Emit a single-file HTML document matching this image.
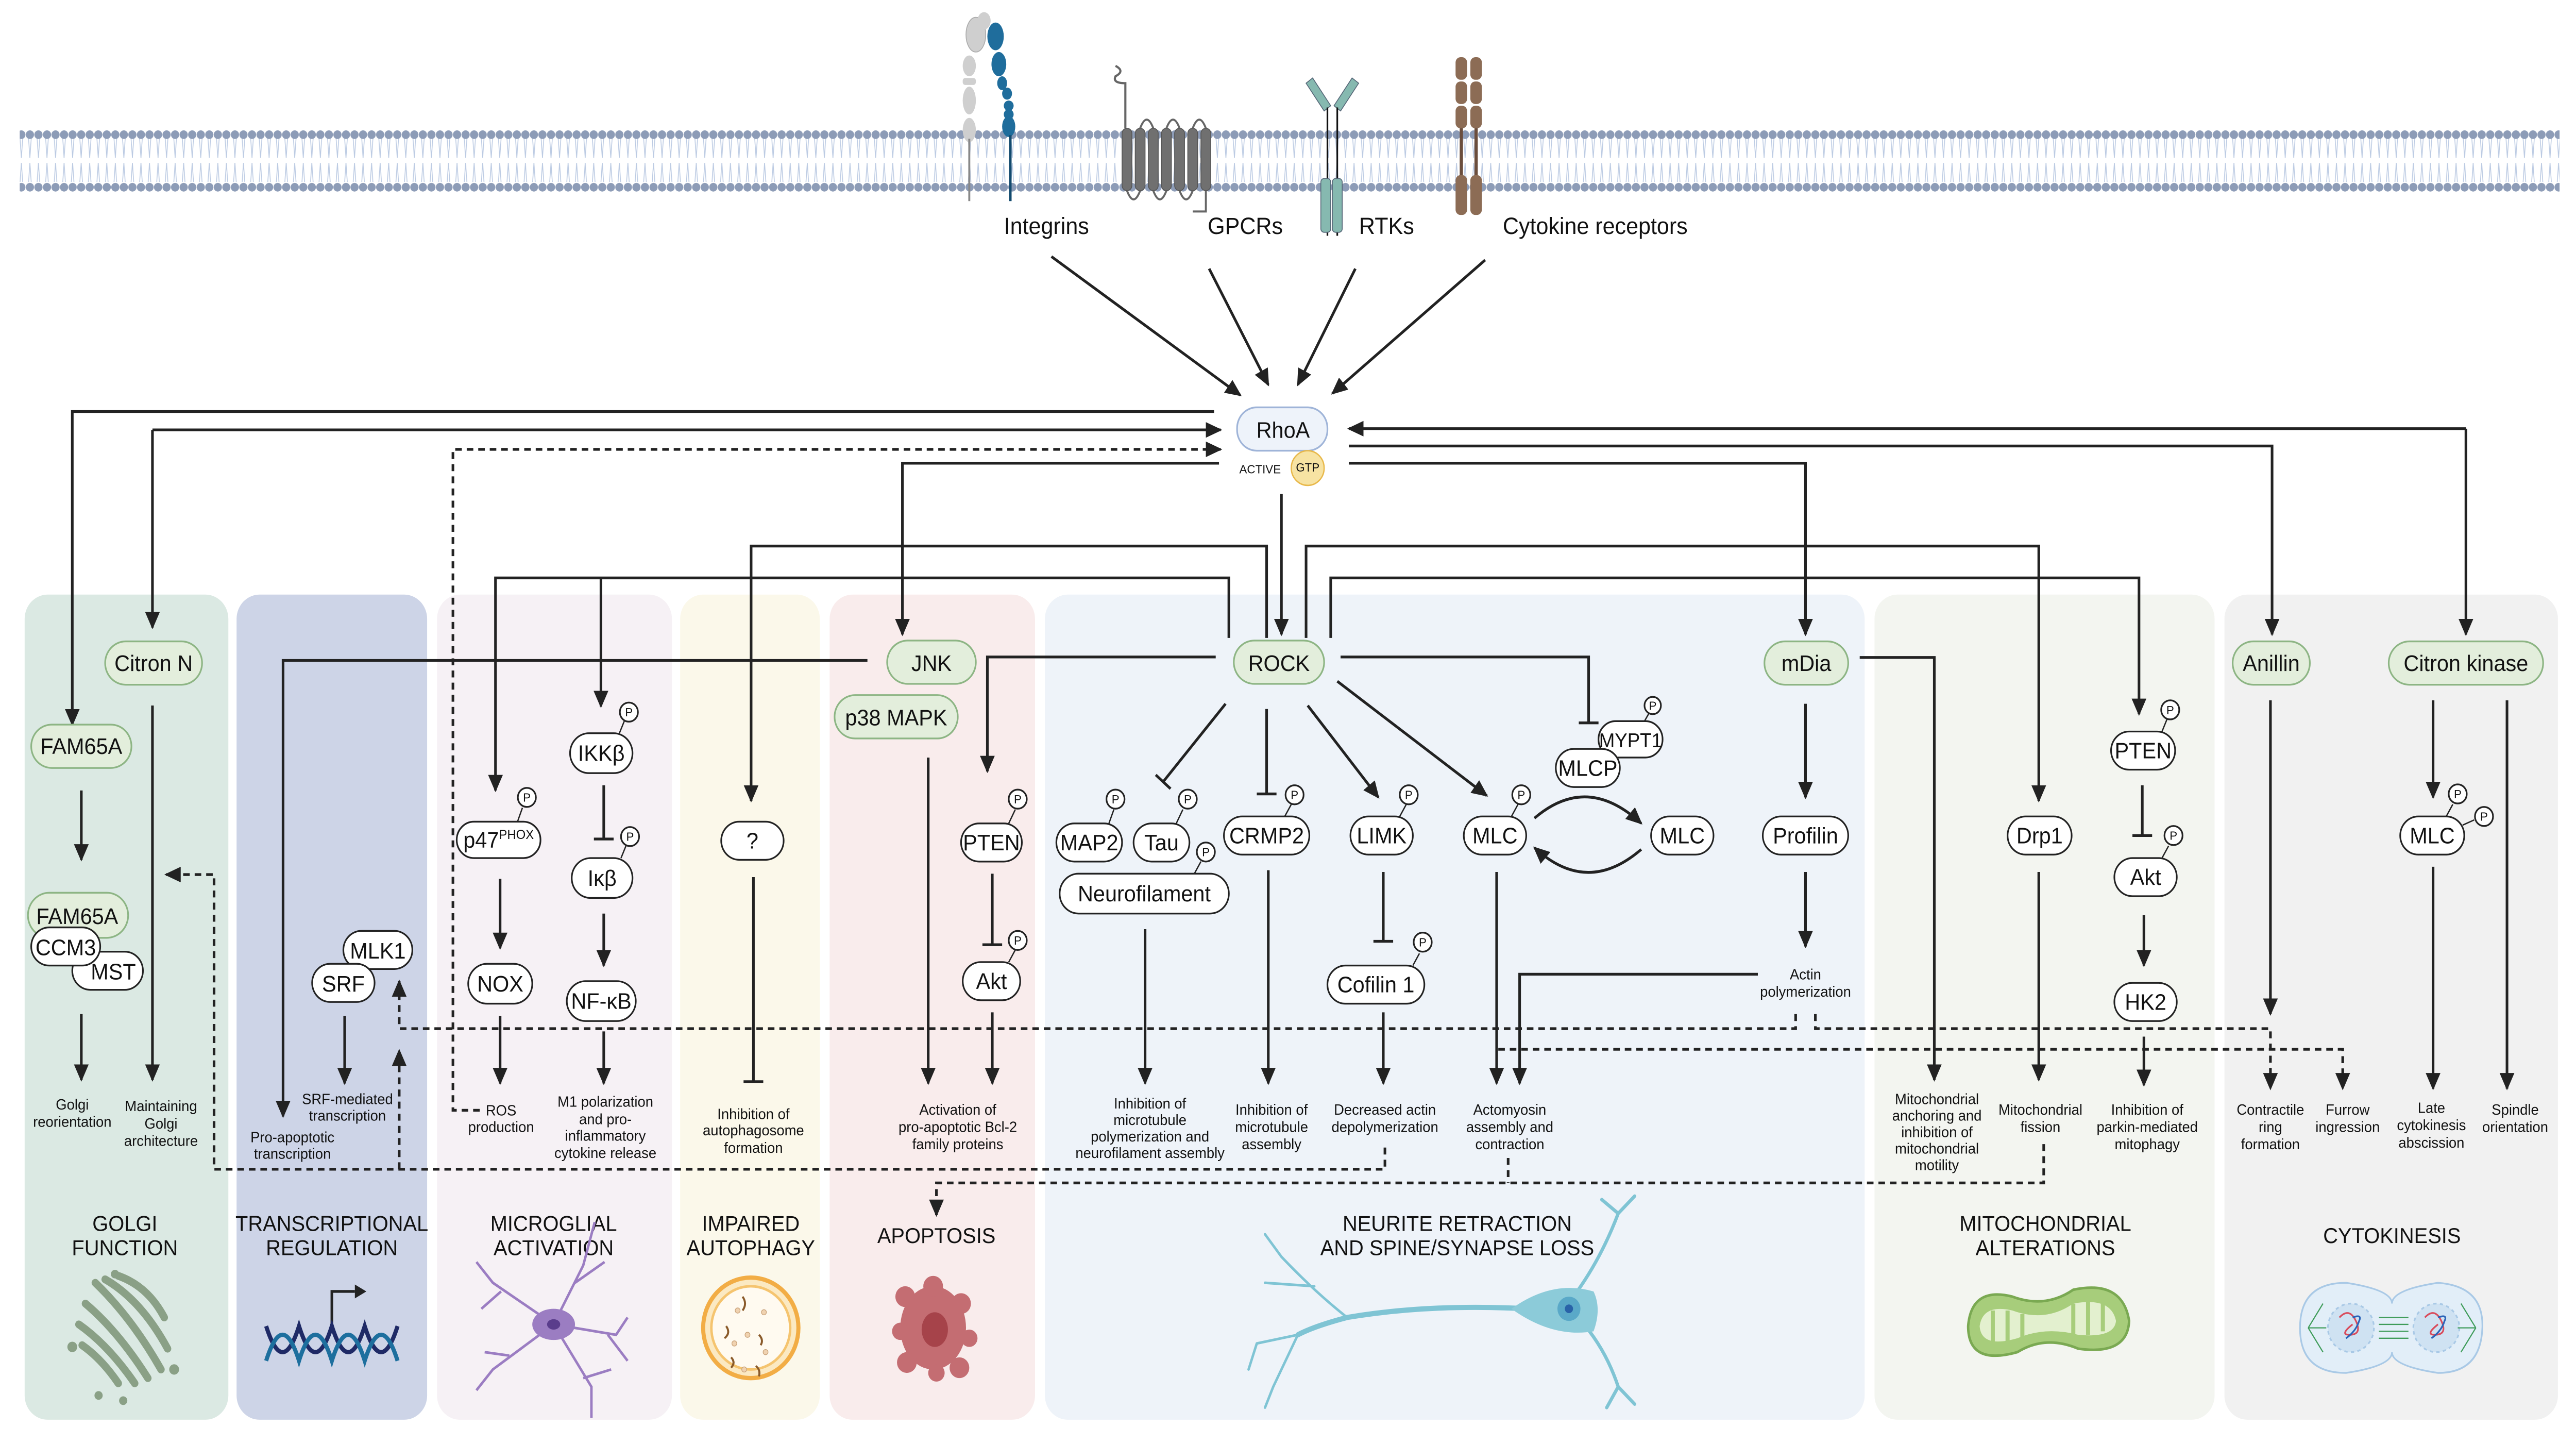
<!DOCTYPE html>
<html><head><meta charset="utf-8">
<style>
html,body{margin:0;padding:0;background:#fff;overflow:hidden;width:100%;height:100%;}
svg{display:block;position:fixed;left:0;top:0;width:100vw;height:100vh;}
text{font-family:"Liberation Sans",sans-serif;fill:#111;}
.n{font-size:13px;text-anchor:middle;}
.l{font-size:8.6px;text-anchor:middle;}
.t{font-size:12.5px;text-anchor:middle;}
.r{font-size:13.5px;text-anchor:middle;}
.p{font-size:7px;text-anchor:middle;}
.ln{fill:none;stroke:#222;stroke-width:1.6;}
.ds{fill:none;stroke:#222;stroke-width:1.6;stroke-dasharray:4 3;}
.w{fill:#fff;stroke:#222;stroke-width:1;}
.g{fill:#e3eedc;stroke:#8db584;stroke-width:1;}
</style></head>
<body>
<svg viewBox="0 0 1568 833" preserveAspectRatio="none" xmlns="http://www.w3.org/2000/svg">
<defs>
<marker id="a" markerUnits="userSpaceOnUse" markerWidth="10" markerHeight="9" refX="9" refY="4.5" orient="auto"><path d="M0,0 L10,4.5 L0,9 z" fill="#222"/></marker>
<pattern id="mem" patternUnits="userSpaceOnUse" x="0" y="70" width="5.2" height="44">
<line x1="1.8" y1="10" x2="2.6" y2="21" stroke="#bccbe3" stroke-width="0.5"/><line x1="3.4" y1="10" x2="2.6" y2="21" stroke="#bccbe3" stroke-width="0.5"/>
<line x1="1.8" y1="35" x2="2.6" y2="24" stroke="#bccbe3" stroke-width="0.5"/><line x1="3.4" y1="35" x2="2.6" y2="24" stroke="#bccbe3" stroke-width="0.5"/>
<circle cx="2.6" cy="7.7" r="2.5" fill="#8d9cb7"/><circle cx="2.6" cy="38" r="2.5" fill="#8d9cb7"/>
</pattern>
</defs>

<!-- panels -->
<rect x="15" y="343" width="124" height="476" rx="14" fill="#dbe9e3"/>
<rect x="144" y="343" width="116" height="476" rx="14" fill="#cdd4e7"/>
<rect x="266" y="343" width="143" height="476" rx="14" fill="#f6f1f5"/>
<rect x="414" y="343" width="85" height="476" rx="14" fill="#fbf8ea"/>
<rect x="505" y="343" width="125" height="476" rx="14" fill="#f9ecec"/>
<rect x="636" y="343" width="499" height="476" rx="14" fill="#eef3f9"/>
<rect x="1141" y="343" width="207" height="476" rx="14" fill="#f3f5f0"/>
<rect x="1354" y="343" width="203" height="476" rx="14" fill="#f1f1f1"/>

<!-- membrane -->
<rect x="12" y="70" width="1546" height="44" fill="url(#mem)"/>

<!-- receptors -->
<g>
<ellipse cx="594" cy="20" rx="6" ry="10" fill="#cfcfcf" stroke="#aaa" stroke-width=".5"/>
<ellipse cx="599" cy="12" rx="4" ry="5" fill="#cfcfcf"/>
<ellipse cx="590" cy="38" rx="4" ry="6" fill="#cfcfcf"/>
<rect x="586" y="45" width="8" height="4" rx="1.5" fill="#cfcfcf"/>
<ellipse cx="590" cy="58" rx="4" ry="8" fill="#cfcfcf"/>
<ellipse cx="590" cy="75" rx="4" ry="7" fill="#cfcfcf"/>
<line x1="590" y1="80" x2="590" y2="116" stroke="#888" stroke-width="1.2"/>
<ellipse cx="606" cy="21" rx="5" ry="8" fill="#1f6d9c"/>
<ellipse cx="608" cy="37" rx="4.5" ry="7" fill="#1f6d9c"/>
<ellipse cx="610" cy="48" rx="3" ry="4" fill="#1f6d9c"/><ellipse cx="613" cy="54" rx="3" ry="3.5" fill="#1f6d9c"/>
<ellipse cx="614" cy="61" rx="3" ry="3" fill="#1f6d9c"/><ellipse cx="614" cy="66" rx="3" ry="3" fill="#1f6d9c"/>
<ellipse cx="614" cy="73" rx="4" ry="6" fill="#1f6d9c"/>
<line x1="615" y1="78" x2="615" y2="116" stroke="#124a6e" stroke-width="1.5"/>
</g>
<g fill="#707070" stroke="#555" stroke-width=".5">
<path d="M685,74 V48 q-8,0 -6,-4 q6,-3 0,-6" fill="none" stroke="#666" stroke-width="1.3"/>
<rect x="683" y="74" width="6" height="36" rx="3"/><rect x="691" y="74" width="6" height="36" rx="3"/>
<rect x="699" y="74" width="6" height="36" rx="3"/><rect x="707" y="74" width="6" height="36" rx="3"/>
<rect x="715" y="74" width="6" height="36" rx="3"/><rect x="723" y="74" width="6" height="36" rx="3"/>
<rect x="731" y="74" width="6" height="36" rx="3"/>
<path d="M694,74 q4,-10 8,0 M710,74 q4,-10 8,0 M726,74 q4,-10 8,0 M686,110 q4,10 8,0 M702,110 q4,10 8,0 M718,110 q4,10 8,0 M734,110 v12 h-8" fill="none" stroke="#666" stroke-width="1.2"/>
</g>
<g>
<path d="M795,48 l4,-3 l11,16 l-4,3 z M827,48 l-4,-3 l-11,16 l4,3 z" fill="#86b9b0" stroke="#567" stroke-width=".5"/>
<line x1="808" y1="62" x2="808" y2="136" stroke="#111" stroke-width="1"/><line x1="814" y1="62" x2="814" y2="136" stroke="#111" stroke-width="1"/>
<rect x="804" y="103" width="6" height="31" rx="2" fill="#86b9b0" stroke="#567" stroke-width=".5"/>
<rect x="811" y="103" width="6" height="31" rx="2" fill="#86b9b0" stroke="#567" stroke-width=".5"/>
</g>
<g fill="#8c6c55">
<rect x="886" y="33" width="7" height="13" rx="3"/><rect x="895" y="33" width="7" height="13" rx="3"/>
<rect x="886" y="47" width="7" height="13" rx="3"/><rect x="895" y="47" width="7" height="13" rx="3"/>
<rect x="886" y="61" width="7" height="13" rx="3"/><rect x="895" y="61" width="7" height="13" rx="3"/>
<rect x="888.5" y="74" width="2" height="28" fill="#6b4e3d"/><rect x="897.5" y="74" width="2" height="28" fill="#6b4e3d"/>
<rect x="886" y="101" width="7" height="23" rx="3"/><rect x="895" y="101" width="7" height="23" rx="3"/>
</g>
<text class="r" x="637" y="135">Integrins</text>
<text class="r" x="758" y="135">GPCRs</text>
<text class="r" x="844" y="135">RTKs</text>
<text class="r" x="971" y="135">Cytokine receptors</text>

<!-- receptor arrows -->
<line class="ln" x1="640" y1="148" x2="755" y2="228" marker-end="url(#a)" stroke="#333"/>
<line class="ln" x1="736" y1="155" x2="772" y2="222" marker-end="url(#a)"/>
<line class="ln" x1="825" y1="155" x2="790" y2="222" marker-end="url(#a)"/>
<line class="ln" x1="904" y1="150" x2="811" y2="227" marker-end="url(#a)"/>

<!-- RhoA -->
<rect x="753" y="235" width="55" height="25" rx="12" fill="#eef3fa" stroke="#9fb4d8" stroke-width="1"/>
<text class="n" x="781" y="252.5">RhoA</text>
<circle cx="796" cy="270" r="10" fill="#f7e3a3" stroke="#e8b84a" stroke-width=".8"/>
<text x="796" y="272" style="font-size:7px;text-anchor:middle">GTP</text>
<text x="767" y="273" style="font-size:7px;text-anchor:middle">ACTIVE</text>

<!-- RhoA connectors -->
<path class="ln" d="M739,237.4 H44 V418" marker-end="url(#a)"/>
<path class="ln" d="M92.8,248 H743" marker-end="url(#a)"/>
<path class="ln" d="M92.8,248 V362" marker-end="url(#a)"/>
<path class="ds" d="M292,640.5 H275.7 V259.2 H743" marker-end="url(#a)"/>
<path class="ln" d="M742,267.2 H549.3 V366" marker-end="url(#a)"/>
<path class="ln" d="M1501,247.3 H821" marker-end="url(#a)"/>
<path class="ln" d="M1501,247.3 V366" marker-end="url(#a)"/>
<path class="ln" d="M821,257.3 H1383 V366" marker-end="url(#a)"/>
<path class="ln" d="M821,267.2 H1099 V366" marker-end="url(#a)"/>
<path class="ln" d="M780,285 V366" marker-end="url(#a)"/>
<path class="ln" d="M771,368 V315 H457.2 V462" marker-end="url(#a)"/>
<path class="ln" d="M748,368 V333.4 H301.6 V456" marker-end="url(#a)"/>
<path class="ln" d="M365.8,333.4 V407.5" marker-end="url(#a)"/>
<path class="ln" d="M795,368 V315 H1241 V462" marker-end="url(#a)"/>
<path class="ln" d="M810,368 V333.4 H1302 V412" marker-end="url(#a)"/>

<!-- ROCK -->
<rect x="751" y="369.5" width="55" height="25" rx="12.5" class="g"/>
<text class="n" x="778.5" y="387">ROCK</text>
<path class="ln" d="M740,379 H601 V445" marker-end="url(#a)"/>
<path class="ln" d="M816,379 H967 V417 M961,417 H973"/>
<path class="ln" d="M746,406 L708,451 M703.5,447 L712.5,455"/>
<path class="ln" d="M771,409 V458 M765,458 H777"/>
<line class="ln" x1="796" y1="407" x2="839" y2="460" marker-end="url(#a)"/>
<line class="ln" x1="814" y1="393" x2="905" y2="459" marker-end="url(#a)"/>

<!-- JNK / p38 -->
<rect x="540" y="369.5" width="54" height="25" rx="12.5" class="g"/>
<text class="n" x="567" y="387">JNK</text>
<rect x="508" y="401" width="75" height="25" rx="12.5" class="g"/>
<text class="n" x="545.5" y="418.5">p38 MAPK</text>
<path class="ln" d="M528,381 H172.3 V644" marker-end="url(#a)"/>
<line class="ln" x1="565" y1="437" x2="565" y2="625" marker-end="url(#a)"/>

<!-- apoptosis PTEN/Akt -->
<rect x="585" y="475" width="37" height="22" rx="11" class="w"/><text class="n" x="603.5" y="490.5">PTEN</text>
<line x1="614" y1="475" x2="618" y2="467" stroke="#222" stroke-width=".8"/><circle cx="619.5" cy="461" r="5.5" class="w"/><text class="p" x="619.5" y="463.5">P</text>
<path class="ln" d="M604,504 V545 M598,545 H610"/>
<rect x="586" y="555" width="35" height="22" rx="11" class="w"/><text class="n" x="603.5" y="570.5">Akt</text>
<line x1="614" y1="555" x2="618" y2="548" stroke="#222" stroke-width=".8"/><circle cx="619.5" cy="542.5" r="5.5" class="w"/><text class="p" x="619.5" y="545">P</text>
<line class="ln" x1="604" y1="584" x2="604" y2="625" marker-end="url(#a)"/>
<text class="l" x="583" y="643">Activation of</text>
<text class="l" x="583" y="653">pro-apoptotic Bcl-2</text>
<text class="l" x="583" y="663">family proteins</text>

<!-- neurite nodes -->
<rect x="643" y="475" width="40" height="22" rx="11" class="w"/><text class="n" x="663" y="490.5">MAP2</text>
<line x1="675" y1="475" x2="678" y2="467" stroke="#222" stroke-width=".8"/><circle cx="679" cy="461" r="5.5" class="w"/><text class="p" x="679" y="463.5">P</text>
<rect x="690" y="475" width="34" height="22" rx="11" class="w"/><text class="n" x="707" y="490.5">Tau</text>
<line x1="716" y1="475" x2="720" y2="467" stroke="#222" stroke-width=".8"/><circle cx="723" cy="461" r="5.5" class="w"/><text class="p" x="723" y="463.5">P</text>
<rect x="645" y="504" width="103" height="23" rx="11.5" class="w"/><text class="n" x="696.5" y="520">Neurofilament</text>
<line x1="727" y1="504" x2="731" y2="497" stroke="#222" stroke-width=".8"/><circle cx="734" cy="491.5" r="5.5" class="w"/><text class="p" x="734" y="494">P</text>
<line class="ln" x1="697" y1="536" x2="697" y2="625" marker-end="url(#a)"/>
<rect x="745" y="471" width="52" height="22" rx="11" class="w"/><text class="n" x="771" y="486.5">CRMP2</text>
<line x1="782" y1="471" x2="786" y2="464" stroke="#222" stroke-width=".8"/><circle cx="788" cy="458.5" r="5.5" class="w"/><text class="p" x="788" y="461">P</text>
<line class="ln" x1="772" y1="502" x2="772" y2="625" marker-end="url(#a)"/>
<rect x="822" y="471" width="38" height="22" rx="11" class="w"/><text class="n" x="841" y="486.5">LIMK</text>
<line x1="852" y1="471" x2="856" y2="464" stroke="#222" stroke-width=".8"/><circle cx="857.5" cy="458.5" r="5.5" class="w"/><text class="p" x="857.5" y="461">P</text>
<path class="ln" d="M842,503 V543 M836,543 H848"/>
<rect x="808" y="557" width="59" height="22" rx="11" class="w"/><text class="n" x="837.5" y="572.5">Cofilin 1</text>
<line x1="860" y1="557" x2="864" y2="550" stroke="#222" stroke-width=".8"/><circle cx="866" cy="543.5" r="5.5" class="w"/><text class="p" x="866" y="546">P</text>
<line class="ln" x1="842" y1="584" x2="842" y2="625" marker-end="url(#a)"/>
<rect x="891" y="471" width="38" height="22" rx="11" class="w"/><text class="n" x="910" y="486.5">MLC</text>
<line x1="920" y1="471" x2="924" y2="464" stroke="#222" stroke-width=".8"/><circle cx="926" cy="458.5" r="5.5" class="w"/><text class="p" x="926" y="461">P</text>
<rect x="1005" y="471" width="38" height="22" rx="11" class="w"/><text class="n" x="1024" y="486.5">MLC</text>
<path class="ln" d="M934,472 Q966,446 999,475" marker-end="url(#a)"/>
<path class="ln" d="M999,490 Q966,517 934,489" marker-end="url(#a)"/>
<rect x="973" y="416" width="39" height="21" rx="10.5" class="w"/><text style="font-size:11.5px;text-anchor:middle" x="992.5" y="431">MYPT1</text>
<line x1="1001" y1="416" x2="1004" y2="411" stroke="#222" stroke-width=".8"/><circle cx="1006" cy="407" r="5" class="w"/><text class="p" x="1006" y="409.5">P</text>
<rect x="947" y="432" width="39" height="22" rx="11" class="w"/><text class="n" x="966.5" y="447.5">MLCP</text>
<line class="ln" x1="911" y1="503" x2="911" y2="625" marker-end="url(#a)"/>
<rect x="1073" y="471" width="52" height="22" rx="11" class="w"/><text class="n" x="1099" y="486.5">Profilin</text>
<rect x="1074" y="370" width="51" height="25" rx="12.5" class="g"/><text class="n" x="1099.5" y="387">mDia</text>
<line class="ln" x1="1099" y1="406" x2="1099" y2="460" marker-end="url(#a)"/>
<line class="ln" x1="1099" y1="503" x2="1099" y2="546" marker-end="url(#a)"/>
<text class="l" x="1099" y="565">Actin</text>
<text class="l" x="1099" y="575">polymerization</text>
<path class="ln" d="M1070,562 H925 V625" marker-end="url(#a)"/>
<path class="ln" d="M1132,379.3 H1177.4 V623" marker-end="url(#a)"/>
<text class="l" x="700" y="639.5">Inhibition of</text>
<text class="l" x="700" y="649">microtubule</text>
<text class="l" x="700" y="658.5">polymerization and</text>
<text class="l" x="700" y="668">neurofilament assembly</text>
<text class="l" x="774" y="643">Inhibition of</text>
<text class="l" x="774" y="653">microtubule</text>
<text class="l" x="774" y="663">assembly</text>
<text class="l" x="843" y="643">Decreased actin</text>
<text class="l" x="843" y="653">depolymerization</text>
<text class="l" x="919" y="643">Actomyosin</text>
<text class="l" x="919" y="653">assembly and</text>
<text class="l" x="919" y="663">contraction</text>

<!-- mitochondria -->
<rect x="1222" y="471" width="39" height="22" rx="11" class="w"/><text class="n" x="1241.5" y="486.5">Drp1</text>
<line class="ln" x1="1241" y1="503" x2="1241" y2="623" marker-end="url(#a)"/>
<rect x="1285" y="422" width="39" height="22" rx="11" class="w"/><text class="n" x="1304.5" y="437.5">PTEN</text>
<line x1="1316" y1="422" x2="1319" y2="415" stroke="#222" stroke-width=".8"/><circle cx="1321" cy="409.5" r="5.5" class="w"/><text class="p" x="1321" y="412">P</text>
<path class="ln" d="M1304,453 V482 M1298,482 H1310"/>
<rect x="1287" y="495" width="38" height="22" rx="11" class="w"/><text class="n" x="1306" y="510.5">Akt</text>
<line x1="1316" y1="495" x2="1320" y2="488" stroke="#222" stroke-width=".8"/><circle cx="1323" cy="482" r="5.5" class="w"/><text class="p" x="1323" y="484.5">P</text>
<line class="ln" x1="1305" y1="528" x2="1305" y2="557" marker-end="url(#a)"/>
<rect x="1287" y="567" width="38" height="22" rx="11" class="w"/><text class="n" x="1306" y="582.5">HK2</text>
<line class="ln" x1="1305" y1="598" x2="1305" y2="626" marker-end="url(#a)"/>
<text class="l" x="1179" y="637">Mitochondrial</text>
<text class="l" x="1179" y="646.5">anchoring  and</text>
<text class="l" x="1179" y="656">inhibition of</text>
<text class="l" x="1179" y="665.5">mitochondrial</text>
<text class="l" x="1179" y="675">motility</text>
<text class="l" x="1242" y="643">Mitochondrial</text>
<text class="l" x="1242" y="653">fission</text>
<text class="l" x="1307" y="643">Inhibition of</text>
<text class="l" x="1307" y="653">parkin-mediated</text>
<text class="l" x="1307" y="663">mitophagy</text>

<!-- cytokinesis -->
<rect x="1359" y="370" width="47" height="25" rx="12.5" class="g"/><text class="n" x="1382.5" y="387">Anillin</text>
<rect x="1454" y="370" width="94" height="25" rx="12.5" class="g"/><text class="n" x="1501" y="387">Citron kinase</text>
<line class="ln" x1="1382" y1="404" x2="1382" y2="585" marker-end="url(#a)"/>
<line class="ln" x1="1481" y1="404" x2="1481" y2="460" marker-end="url(#a)"/>
<line class="ln" x1="1526" y1="404" x2="1526" y2="628" marker-end="url(#a)"/>
<rect x="1461" y="471" width="39" height="22" rx="11" class="w"/><text class="n" x="1480.5" y="486.5">MLC</text>
<line x1="1489" y1="471" x2="1493" y2="464" stroke="#222" stroke-width=".8"/><circle cx="1496" cy="458" r="5.5" class="w"/><text class="p" x="1496" y="460.5">P</text>
<line x1="1499" y1="476" x2="1506" y2="473" stroke="#222" stroke-width=".8"/><circle cx="1512" cy="471" r="5.5" class="w"/><text class="p" x="1512" y="473.5">P</text>
<line class="ln" x1="1481" y1="500" x2="1481" y2="628" marker-end="url(#a)"/>
<text class="l" x="1382" y="643">Contractile</text>
<text class="l" x="1382" y="653">ring</text>
<text class="l" x="1382" y="663">formation</text>
<text class="l" x="1429" y="643">Furrow</text>
<text class="l" x="1429" y="653">ingression</text>
<text class="l" x="1480" y="642">Late</text>
<text class="l" x="1480" y="652">cytokinesis</text>
<text class="l" x="1480" y="662">abscission</text>
<text class="l" x="1531" y="643">Spindle</text>
<text class="l" x="1531" y="653">orientation</text>

<!-- Golgi panel -->
<rect x="64" y="370" width="59" height="25" rx="12.5" class="g"/><text class="n" x="93.5" y="387">Citron N</text>
<rect x="19" y="418" width="61" height="25" rx="12.5" class="g"/><text class="n" x="49.5" y="435">FAM65A</text>
<line class="ln" x1="49.5" y1="456" x2="49.5" y2="496" marker-end="url(#a)"/>
<rect x="17" y="515" width="61" height="26" rx="13" class="g"/><text class="n" x="47" y="533">FAM65A</text>
<rect x="44" y="549" width="43" height="22" rx="11" class="w"/><text class="n" x="69" y="565">MST</text>
<rect x="19" y="535" width="42" height="22" rx="11" class="w"/><text class="n" x="40" y="551">CCM3</text>
<line class="ln" x1="49.5" y1="585" x2="49.5" y2="623" marker-end="url(#a)"/>
<line class="ln" x1="92.8" y1="407" x2="92.8" y2="623" marker-end="url(#a)"/>
<text class="l" x="44" y="640">Golgi</text>
<text class="l" x="44" y="650">reorientation</text>
<text class="l" x="98" y="641">Maintaining</text>
<text class="l" x="98" y="651">Golgi</text>
<text class="l" x="98" y="661">architecture</text>

<!-- transcription -->
<rect x="209" y="537" width="42" height="22" rx="11" class="w"/><text class="n" x="230" y="553">MLK1</text>
<rect x="190" y="556" width="38" height="22" rx="11" class="w"/><text class="n" x="209" y="572">SRF</text>
<line class="ln" x1="209.8" y1="586" x2="209.8" y2="625" marker-end="url(#a)"/>
<text class="l" x="211.5" y="637">SRF-mediated</text>
<text class="l" x="211.5" y="646.5">transcription</text>
<text class="l" x="178" y="659">Pro-apoptotic</text>
<text class="l" x="178" y="668.5">transcription</text>

<!-- microglial -->
<rect x="278" y="474" width="51" height="21" rx="10.5" class="w"/>
<text x="282" y="489" style="font-size:13px">p47<tspan style="font-size:7.5px" dy="-5">PHOX</tspan></text>
<line x1="315" y1="474" x2="318" y2="466" stroke="#222" stroke-width=".8"/><circle cx="320.7" cy="460" r="5.5" class="w"/><text class="p" x="320.7" y="462.5">P</text>
<line class="ln" x1="304.4" y1="507" x2="304.4" y2="547" marker-end="url(#a)"/>
<rect x="285" y="556" width="39" height="23" rx="11.5" class="w"/><text class="n" x="304.5" y="572">NOX</text>
<line class="ln" x1="304.4" y1="586" x2="304.4" y2="625" marker-end="url(#a)"/>
<text class="l" x="305" y="643.5">ROS</text>
<text class="l" x="305" y="653">production</text>
<rect x="347" y="423" width="38" height="23" rx="11.5" class="w"/><text class="n" x="366" y="439">IKKβ</text>
<line x1="377" y1="423" x2="380" y2="416" stroke="#222" stroke-width=".8"/><circle cx="382.8" cy="410.8" r="5.5" class="w"/><text class="p" x="382.8" y="413.3">P</text>
<path class="ln" d="M367.5,453 V484 M361.5,484 H373.5"/>
<rect x="348" y="495" width="37" height="23" rx="11.5" class="w"/><text class="n" x="366.5" y="511">Iκβ</text>
<line x1="378" y1="495" x2="381" y2="488" stroke="#222" stroke-width=".8"/><circle cx="383.5" cy="482.6" r="5.5" class="w"/><text class="p" x="383.5" y="485">P</text>
<line class="ln" x1="367.5" y1="527" x2="367.5" y2="557" marker-end="url(#a)"/>
<rect x="345" y="566" width="42" height="23" rx="11.5" class="w"/><text class="n" x="366" y="582">NF-κB</text>
<line class="ln" x1="367.5" y1="595" x2="367.5" y2="625" marker-end="url(#a)"/>
<text class="l" x="368.5" y="638.5">M1 polarization</text>
<text class="l" x="368.5" y="648.5">and pro-</text>
<text class="l" x="368.5" y="658">inflammatory</text>
<text class="l" x="368.5" y="668">cytokine release</text>

<!-- autophagy -->
<rect x="439" y="474" width="38" height="22" rx="11" class="w"/><text class="n" x="458" y="489.5">?</text>
<path class="ln" d="M458.6,506 V624 M452.6,624 H464.6"/>
<text class="l" x="458.6" y="645.5">Inhibition of</text>
<text class="l" x="458.6" y="655">autophagosome</text>
<text class="l" x="458.6" y="665">formation</text>

<!-- dashed feedback lines -->
<path class="ds" d="M1093,585 V593.4 H243 V566" marker-end="url(#a)"/>
<path class="ds" d="M1105,585 V593.4 H1382 V628" marker-end="url(#a)"/>
<path class="ds" d="M912,605.3 H1426 V628" marker-end="url(#a)"/>
<path class="ds" d="M843,662 V674.5 H130.3 V504.5 H101" marker-end="url(#a)"/>
<path class="ds" d="M243,674.5 V606" marker-end="url(#a)"/>
<path class="ds" d="M1244,660 V682.4 H570 V701" marker-end="url(#a)"/>
<path class="ds" d="M918,668 V682.4"/>

<!-- titles -->
<text class="t" x="76" y="710">GOLGI</text><text class="t" x="76" y="724">FUNCTION</text>
<text class="t" x="202" y="710">TRANSCRIPTIONAL</text><text class="t" x="202" y="724">REGULATION</text>
<text class="t" x="337" y="710">MICROGLIAL</text><text class="t" x="337" y="724">ACTIVATION</text>
<text class="t" x="457" y="710">IMPAIRED</text><text class="t" x="457" y="724">AUTOPHAGY</text>
<text class="t" x="570" y="717">APOPTOSIS</text>
<text class="t" x="887" y="710">NEURITE RETRACTION</text><text class="t" x="887" y="724">AND SPINE/SYNAPSE LOSS</text>
<text class="t" x="1245" y="710">MITOCHONDRIAL</text><text class="t" x="1245" y="724">ALTERATIONS</text>
<text class="t" x="1456" y="717">CYTOKINESIS</text>

<!-- Golgi image -->
<g fill="none" stroke="#8aa086" stroke-width="4.5" stroke-linecap="round">
<path d="M58,740 Q80,760 98,790"/>
<path d="M52,752 Q72,768 90,795"/>
<path d="M48,764 Q66,776 82,798"/>
<path d="M50,776 Q62,784 72,798"/>
<path d="M64,738 Q86,750 102,778"/>
<path d="M72,736 Q90,742 100,760"/>
</g>
<g fill="#8aa086"><circle cx="44" cy="777" r="3"/><circle cx="70" cy="735" r="2.5"/><circle cx="106" cy="790" r="3"/><circle cx="60" cy="805" r="2.5"/><circle cx="75" cy="808" r="2.5"/></g>

<!-- DNA -->
<path d="M202,764 V745 H216" fill="none" stroke="#222" stroke-width="1.6"/><path d="M216,741 L223,745 L216,749 z" fill="#222"/>
<g fill="none" stroke-width="2.5">
<path d="M162,765 Q172,795 182,765 Q192,795 202,765 Q212,795 222,765 Q232,795 242,765" stroke="#1f2a66"/>
<path d="M162,785 Q172,755 182,785 Q192,755 202,785 Q212,755 222,785 Q232,755 242,785" stroke="#1d6f9e"/>
</g>

<!-- microglia -->
<g stroke="#9b7dc2" stroke-width="1.5" fill="none">
<path d="M337,764 L355,730 L362,705 M350,740 L368,728 M337,764 L300,740 L290,728 M305,745 L293,755 M337,764 L300,790 L290,802 M310,782 L295,780 M337,764 L360,800 L360,818 M355,795 L372,790 M337,764 L375,770 L382,760 M370,770 L382,785"/>
</g>
<ellipse cx="337" cy="764" rx="13" ry="9" fill="#9b7dc2"/><ellipse cx="337" cy="764" rx="4" ry="3" fill="#5a3d8c"/>

<!-- autophagosome -->
<circle cx="457" cy="766" r="29" fill="#fbe9c2" stroke="#f2ad45" stroke-width="2.5"/>
<circle cx="457" cy="766" r="24" fill="#fffaf0" stroke="#f5c46f" stroke-width="1.5"/>
<g fill="none" stroke="#8a5a2a" stroke-width="1.2"><path d="M452,748 q3,4 0,8"/><path d="M442,765 q3,4 -1,7"/><path d="M462,770 q3,3 1,6"/><path d="M445,783 q3,3 0,6"/><path d="M460,788 q3,2 2,6"/></g>
<g fill="#f0d2b0" stroke="#c9a27a" stroke-width=".4"><circle cx="449" cy="756" r="1.5"/><circle cx="465" cy="757" r="1.5"/><circle cx="455" cy="770" r="1.5"/><circle cx="447" cy="775" r="1.5"/><circle cx="466" cy="780" r="1.5"/><circle cx="453" cy="790" r="1.5"/></g>

<!-- apoptotic cell -->
<g fill="#c46d72">
<ellipse cx="568" cy="766" rx="20" ry="24"/>
<circle cx="551" cy="748" r="6"/><circle cx="585" cy="752" r="6"/><circle cx="548" cy="768" r="5"/><circle cx="590" cy="772" r="5"/><circle cx="552" cy="786" r="6"/><circle cx="584" cy="789" r="6"/><circle cx="568" cy="742" r="6"/><circle cx="570" cy="792" r="5"/>
</g>
<ellipse cx="569" cy="767" rx="8" ry="10" fill="#a6434a"/>

<!-- neuron -->
<g stroke="#7fc4d4" fill="none" stroke-linecap="round">
<path d="M930,755 Q870,752 820,760 Q800,765 790,770" stroke-width="3"/>
<path d="M820,760 Q800,745 780,725 M800,742 L770,740 M790,770 L765,775 M790,770 L775,800 M780,725 L770,712 M775,800 L770,812 M765,775 L760,790" stroke-width="1.5"/>
<path d="M960,745 Q975,725 985,700 L995,690 M985,700 L975,692" stroke-width="2"/>
<path d="M965,765 Q978,780 985,800 L995,810 M985,800 L978,812" stroke-width="2"/>
</g>
<path d="M920,755 Q945,738 970,745 Q975,755 970,768 Q945,772 920,755 z" fill="#8ccbd9"/>
<circle cx="955" cy="755" r="7" fill="#5aa9c8"/><circle cx="955" cy="755" r="2.5" fill="#2963a8"/>

<!-- mitochondrion -->
<path d="M1198,765 Q1200,742 1225,748 Q1245,755 1262,744 Q1292,738 1296,762 Q1295,782 1265,778 Q1245,770 1228,780 Q1198,788 1198,765 z" fill="#a7cd7b" stroke="#7aa952" stroke-width="1.5"/>
<path d="M1205,765 Q1207,752 1225,756 Q1245,763 1262,752 Q1285,748 1288,762 Q1287,772 1265,770 Q1245,765 1228,772 Q1206,778 1205,765 z" fill="#e3f0cf"/>
<g stroke="#a7cd7b" stroke-width="2.5"><line x1="1213" y1="756" x2="1213" y2="774"/><line x1="1222" y1="756" x2="1222" y2="774"/><line x1="1231" y1="758" x2="1231" y2="772"/><line x1="1262" y1="752" x2="1262" y2="770"/><line x1="1271" y1="750" x2="1271" y2="770"/><line x1="1280" y1="752" x2="1280" y2="768"/></g>

<!-- dividing cell -->
<path d="M1428,740 Q1456,744 1456,752 Q1456,744 1484,740 Q1512,742 1511,766 Q1510,792 1484,792 Q1456,788 1456,780 Q1456,788 1428,792 Q1400,792 1400,766 Q1400,740 1428,740 z" fill="#e2eef8" stroke="#a9c9e6" stroke-width="1"/>
<circle cx="1431" cy="766" r="14" fill="#cfe2f2" stroke="#a9c9e6" stroke-dasharray="2 2"/>
<circle cx="1483" cy="766" r="14" fill="#cfe2f2" stroke="#a9c9e6" stroke-dasharray="2 2"/>
<g fill="none" stroke-width="1"><path d="M1424,760 q6,-6 10,2 q4,8 -4,8 q-6,0 2,-6" stroke="#d94b5b"/><path d="M1428,772 q6,-4 8,-10 q2,-4 -4,-2" stroke="#2b63b8"/><path d="M1476,760 q6,-6 10,2 q4,8 -4,8 q-6,0 2,-6" stroke="#d94b5b"/><path d="M1480,772 q6,-4 8,-10 q2,-4 -4,-2" stroke="#2b63b8"/></g>
<g stroke="#3f9c5a" stroke-width=".7"><line x1="1448" y1="760" x2="1466" y2="760"/><line x1="1448" y1="764" x2="1466" y2="764"/><line x1="1448" y1="768" x2="1466" y2="768"/><line x1="1448" y1="772" x2="1466" y2="772"/><line x1="1405" y1="766" x2="1414" y2="752"/><line x1="1405" y1="766" x2="1414" y2="780"/><line x1="1405" y1="766" x2="1416" y2="766"/><line x1="1507" y1="766" x2="1498" y2="752"/><line x1="1507" y1="766" x2="1498" y2="780"/><line x1="1507" y1="766" x2="1496" y2="766"/></g>
</svg>
</body></html>
